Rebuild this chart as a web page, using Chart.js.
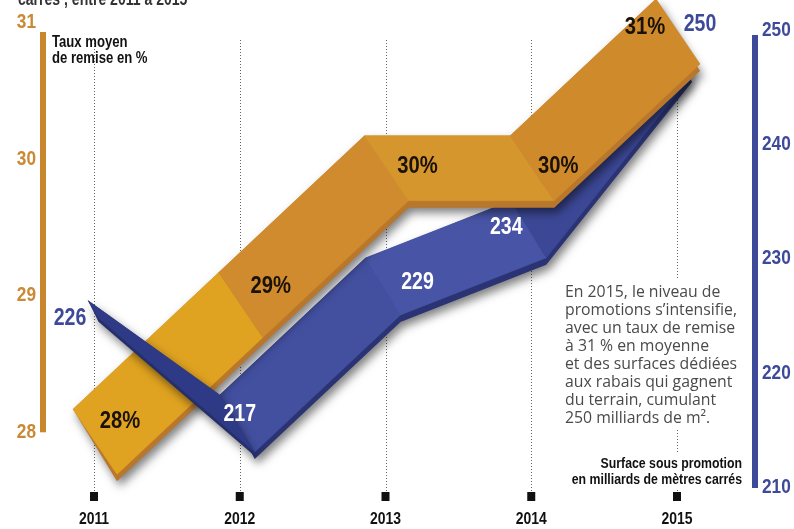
<!DOCTYPE html>
<html>
<head>
<meta charset="utf-8">
<script src="https://cdn.jsdelivr.net/npm/chart.js@4.4.1/dist/chart.umd.min.js"></script>
<style>
  html, body { margin: 0; padding: 0; background: #fff; }
  #wrap { width: 794px; height: 529px; }
</style>
</head>
<body>
<div id="wrap"><canvas id="graphique" width="794" height="529"></canvas></div>
<script>
// données
const annees = ['2011', '2012', '2013', '2014', '2015'];
const tauxRemise = [28, 29, 30, 30, 31];          // %
const surfacePromo = [226, 217, 229, 234, 250];   // milliards de m²
const ticksTaux = [28, 29, 30, 31];
const ticksSurface = [210, 220, 230, 240, 250];
const etiquettesTaux = ['28%', '29%', '30%', '30%', '31%'];
const etiquettesSurface = ['226', '217', '229', '234', '250'];

const POLICE = "'Liberation Sans', Arial, sans-serif";
const ORANGE = '#c98a35';
const BLEU = '#3d4a99';

// texte "condensé" : on resserre horizontalement une police grasse
function texte(ctx, s, x, y, align, taille, sx, couleur) {
  ctx.save();
  ctx.translate(x, y);
  ctx.scale(sx, 1);
  ctx.font = 'bold ' + taille + 'px ' + POLICE;
  ctx.textAlign = align;
  ctx.fillStyle = couleur;
  ctx.fillText(s, 0, 0);
  ctx.restore();
}

function quad(ctx, a, b, c, d) {
  ctx.moveTo(a.x, a.y); ctx.lineTo(b.x, b.y); ctx.lineTo(c.x, c.y); ctx.lineTo(d.x, d.y);
  ctx.closePath();
}

// bande "ruban" : chaque point devient un segment oblique (haut / bas)
function bande(meta, haut, bas, epais) {
  return meta.data.map((p, i) => {
    const k = epais ? epais[i] : 1;
    return {
      t: { x: p.x + haut[0] * k, y: p.y + haut[1] * k },
      b: { x: p.x + bas[0] * k, y: p.y + bas[1] * k }
    };
  });
}

function dessineRuban(ctx, bd, segs, faces, tranche, prof) {
  ctx.save();
  ctx.shadowColor = 'rgba(0,0,0,0.5)';
  ctx.shadowBlur = 10;
  ctx.shadowOffsetX = 3;
  ctx.shadowOffsetY = 5;
  ctx.fillStyle = tranche;
  ctx.beginPath();
  segs.forEach(j => {
    const A = bd[j], B = bd[j + 1];
    quad(ctx, A.t, B.t, { x: B.b.x, y: B.b.y + prof }, { x: A.b.x, y: A.b.y + prof });
  });
  ctx.fill();
  ctx.restore();
  segs.forEach(j => {
    const A = bd[j], B = bd[j + 1];
    ctx.fillStyle = faces[j];
    ctx.strokeStyle = faces[j];
    ctx.lineWidth = 0.6;
    ctx.beginPath();
    quad(ctx, A.t, B.t, B.b, A.b);
    ctx.fill();
    ctx.stroke();
  });
}

const rubans = {
  id: 'rubans',
  beforeDatasetsDraw(chart) {
    const ctx = chart.ctx;
    const x = chart.scales.x, y = chart.scales.y, y1 = chart.scales.y1;
    const ca = chart.chartArea;
    ctx.save();
    // lignes pointillées des années
    ctx.strokeStyle = '#666';
    ctx.lineWidth = 1;
    ctx.setLineDash([1, 2]);
    annees.forEach((a, i) => {
      const px = Math.round(x.getPixelForValue(i)) + 0.5;
      ctx.beginPath();
      ctx.moveTo(px, 40);
      ctx.lineTo(px, ca.bottom + 4);
      ctx.stroke();
    });
    ctx.setLineDash([]);
    // barres verticales des axes
    const yHaut = y.getPixelForValue(ticksTaux[ticksTaux.length - 1]);
    const yBas = y.getPixelForValue(ticksTaux[0]);
    ctx.fillStyle = '#c8862d';
    ctx.fillRect(40, yHaut + 10, 6, yBas - yHaut - 10);
    const y1Haut = y1.getPixelForValue(ticksSurface[ticksSurface.length - 1]);
    const y1Bas = y1.getPixelForValue(ticksSurface[0]);
    ctx.fillStyle = BLEU;
    ctx.fillRect(752, y1Haut + 5, 6, y1Bas - y1Haut - 4);
    // repères et libellés des années
    annees.forEach((a, i) => {
      const px = x.getPixelForValue(i);
      ctx.fillStyle = '#111';
      ctx.fillRect(px - 4, ca.bottom + 5, 8, 9);
      texte(ctx, a, px, ca.bottom + 37, 'center', 17, 0.82, '#111');
    });
    // graduations
    ctx.textBaseline = 'middle';
    ticksTaux.forEach(v => texte(ctx, String(v), 36, y.getPixelForValue(v), 'right', 21, 0.82, ORANGE));
    ticksSurface.forEach(v => texte(ctx, String(v), 762, y1.getPixelForValue(v), 'left', 21, 0.82, BLEU));
    // encadrés de texte
    ctx.fillStyle = '#fff';
    ctx.fillRect(560, 278, 186, 150);
    ctx.fillRect(555, 452, 190, 36);
    ctx.restore();
  },
  afterDatasetsDraw(chart) {
    const ctx = chart.ctx;
    const mO = chart.getDatasetMeta(0), mB = chart.getDatasetMeta(1);
    const bO = bande(mO, [-21, -23], [23, 42]);
    const bB = bande(mB, [-20, -12], [15, 45], [0.3, 1, 1, 1, 1]);
    const facesO = ['#e0a321', '#cf8b2d', '#d6962e', '#cf8a2c'];
    const facesB = ['#2f3a86', '#4350a0', '#4855a6', '#3c4896'];

    dessineRuban(ctx, bB, [1, 2, 3], facesB, '#2a3373', 7);
    dessineRuban(ctx, bO, [0, 1, 2, 3], facesO, '#b8772a', 7);
    dessineRuban(ctx, bB, [0], facesB, '#25306b', 4);

    // étiquettes des valeurs
    const decO = [[26, -11], [31, -9], [32, 8], [27, 8], [-32, 6]];
    const decB = [[-24, 14], [0, 8], [32, 13], [-25, 15], [23, -5]];
    ctx.save();
    ctx.textBaseline = 'middle';
    mO.data.forEach((p, i) =>
      texte(ctx, etiquettesTaux[i], p.x + decO[i][0], p.y + decO[i][1], 'center', 23, 0.88, '#1a1208'));
    mB.data.forEach((p, i) => {
      const bord = i === 0 || i === mB.data.length - 1;
      texte(ctx, etiquettesSurface[i], p.x + decB[i][0], p.y + decB[i][1], 'center', 23, 0.85,
        bord ? BLEU : '#fff');
    });

    // titres
    ctx.textBaseline = 'alphabetic';
    texte(ctx, 'carrés , entre 2011 à 2015', 18, 5, 'left', 18, 0.78, '#333');
    texte(ctx, 'Taux moyen', 52, 47, 'left', 16, 0.82, '#111');
    texte(ctx, 'de remise en %', 52, 63, 'left', 16, 0.82, '#111');
    texte(ctx, 'Surface sous promotion', 742, 468, 'right', 15, 0.82, '#111');
    texte(ctx, 'en milliards de mètres carrés', 742, 484, 'right', 15, 0.82, '#111');

    // commentaire
    ctx.textAlign = 'left';
    ctx.fillStyle = '#4a4a4a';
    ctx.font = '15.8px "Open Sans", sans-serif';
    const lignes = ['En 2015, le niveau de', 'promotions s\u2019intensifie,', 'avec un taux de remise',
      'à 31 % en moyenne', 'et des surfaces dédiées', 'aux rabais qui gagnent',
      'du terrain, cumulant', '250 milliards de m².'];
    lignes.forEach((l, i) => ctx.fillText(l, 565, 297 + i * 18));
    ctx.restore();
  }
};

new Chart(document.getElementById('graphique'), {
  type: 'line',
  data: {
    labels: annees,
    datasets: [
      { label: 'Taux moyen de remise en %', data: tauxRemise, yAxisID: 'y',
        showLine: false, pointRadius: 0, borderColor: ORANGE },
      { label: 'Surface sous promotion', data: surfacePromo, yAxisID: 'y1',
        showLine: false, pointRadius: 0, borderColor: BLEU }
    ]
  },
  options: {
    responsive: false,
    animation: false,
    events: [],
    layout: { padding: { top: 22, bottom: 0, left: 0, right: 0 } },
    plugins: { legend: { display: false }, tooltip: { enabled: false } },
    scales: {
      x: {
        offset: false,
        afterFit: s => { s.height = 42; },
        grid: { display: false },
        border: { display: false },
        ticks: { display: false }
      },
      y: {
        position: 'left',
        min: 27.6, max: 31,
        afterFit: s => { s.width = 94; },
        afterBuildTicks: s => { s.ticks = ticksTaux.map(v => ({ value: v })); },
        grid: { display: false, drawTicks: false },
        border: { display: false },
        ticks: { display: false }
      },
      y1: {
        position: 'right',
        min: 210, max: 250.7,
        afterFit: s => { s.width = 117; },
        afterBuildTicks: s => { s.ticks = ticksSurface.map(v => ({ value: v })); },
        grid: { display: false, drawTicks: false },
        border: { display: false },
        ticks: { display: false }
      }
    }
  },
  plugins: [rubans]
});
</script>
</body>
</html>
